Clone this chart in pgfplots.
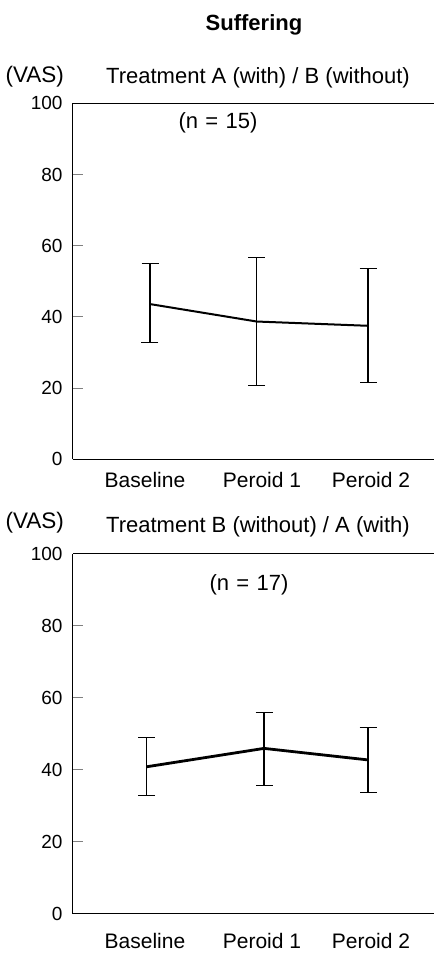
\documentclass[border=0pt]{standalone}
\usepackage{pgfplots}
\pgfplotsset{compat=1.18}
\usepackage{fontspec}
\setmainfont{Liberation Sans}

% one picture unit = one reference pixel (434 x 954)
\pgfplotsset{
  vas/.style={
    scale only axis, width=361pt,
    xmin=73, xmax=434, ymin=0, ymax=100,
    axis lines=left, axis line style={-, line width=1pt},
    ytick={0,20,40,60,80,100},
    tick align=inside, major tick length=10pt,
    y tick style={line width=1pt},
    x tick style={draw=none},
    xtick={145,262,371},
    xticklabels={Baseline,Peroid 1,Peroid 2},
    /pgf/number format/assume math mode=true,
    yticklabel style={font=\fontsize{19}{22}\selectfont, xshift=-7pt},
    clip=false,
  },
  meansd/.style={black, no markers,
    error bars/y dir=both, error bars/y explicit,
    error bars/error bar style={line width=1.1pt},
    error bars/error mark options={rotate=90, mark size=8.5pt, line width=1.1pt}},
}

\begin{document}
\begin{tikzpicture}
\path[use as bounding box] (0,0) rectangle (434pt,954pt);

\node[font=\bfseries\fontsize{22}{26}\selectfont] at (254pt,929pt) {Suffering};

% --- Treatment A / B ---
\begin{axis}[vas, height=356pt, at={(73pt,494.7pt)}, anchor=south west,
  xticklabel style={font=\fontsize{21}{25}\selectfont, yshift=-9pt}]
\draw[line width=1pt] (rel axis cs:0,1) -- (rel axis cs:1,1);
\addplot+[line width=2pt, meansd] table[x=x, y=y, y error plus=ep, y error minus=em] {
x     y    ep   em
150   43.6 11.3 10.9
256.7 38.7 18.0 18.0
368   37.5 16.0 16.0
};
\end{axis}
\node[font=\fontsize{22.5}{26}\selectfont, anchor=west] at (2pt,877pt) {(VAS)};
\node[font=\fontsize{22}{26}\selectfont] at (258pt,876pt) {Treatment A (with) / B (without)};
\node[font=\fontsize{22}{26}\selectfont] at (218pt,831pt) {(n\,\,=\,\,15)};

% --- Treatment B / A ---
\begin{axis}[vas, height=360pt, at={(73pt,40pt)}, anchor=south west,
  xticklabel style={font=\fontsize{21}{25}\selectfont, yshift=-16pt}]
\draw[line width=1pt] (rel axis cs:0,1) -- (rel axis cs:1,1);
\addplot+[line width=2.8pt, meansd] table[x=x, y=y, y error plus=ep, y error minus=em] {
x     y    ep   em
146.7 40.9 8.1  7.9
264   46.0 10.0 10.2
368   42.8 8.9  9.1
};
\end{axis}
\node[font=\fontsize{22.5}{26}\selectfont, anchor=west] at (2pt,431pt) {(VAS)};
\node[font=\fontsize{22}{26}\selectfont] at (258pt,427pt) {Treatment B (without) / A (with)};
\node[font=\fontsize{22}{26}\selectfont] at (249pt,369pt) {(n\,\,=\,\,17)};
\end{tikzpicture}
\end{document}
